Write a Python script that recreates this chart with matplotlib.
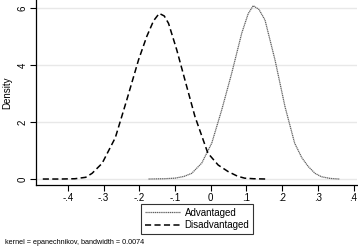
import matplotlib
matplotlib.use("Agg")
import matplotlib.pyplot as plt
import numpy as np

plt.rcParams['font.family'] = ['Liberation Sans', 'DejaVu Sans']

# Disadvantaged density
dis_x = [-0.470, -0.42, -0.38, -0.35, -0.332, -0.304, -0.267, -0.235, -0.202, -0.179,
         -0.160, -0.144, -0.130, -0.118, -0.095, -0.072, -0.044, -0.008, 0.021, 0.049,
         0.075, 0.095, 0.120, 0.156]
dis_y = [0.0, 0.0, 0.01, 0.06, 0.20, 0.55, 1.45, 2.77, 4.18, 5.00,
         5.55, 5.81, 5.72, 5.46, 4.53, 3.47, 2.19, 0.91, 0.49, 0.26,
         0.10, 0.03, 0.01, 0.0]

# Advantaged density
adv_x = [-0.174, -0.13, -0.100, -0.075, -0.053, -0.025, 0.003, 0.031, 0.059, 0.087,
         0.105, 0.119, 0.135, 0.152, 0.180, 0.208, 0.235, 0.255, 0.273, 0.292,
         0.310, 0.335, 0.360]
adv_y = [0.0, 0.01, 0.03, 0.09, 0.20, 0.56, 1.26, 2.43, 3.72, 5.12,
         5.80, 6.08, 5.95, 5.58, 4.18, 2.54, 1.26, 0.75, 0.44, 0.20,
         0.08, 0.02, 0.0]

xticks = [-0.4, -0.3, -0.2, -0.1, 0.0, 0.1, 0.2, 0.3, 0.4]
xticklabels = ['-.4', '-.3', '-.2', '-.1', '0', '.1', '.2', '.3', '.4']
yticks = [0, 2, 4, 6]

fig = plt.figure(figsize=(3.58, 2.48), dpi=100)
ax = fig.add_axes([0.1006, 0.254, 0.897, 0.746])

ax.plot(adv_x, adv_y, color='#606060', lw=0.9, linestyle=(0, (1, 0.5)), label='Advantaged')
ax.plot(dis_x, dis_y, color='black', lw=1.1, linestyle=(0, (4, 2.2)), label='Disadvantaged')

ax.set_xlim(-0.489, 0.41)
ax.set_ylim(-0.21, 6.28)
ax.set_xticks(xticks)
ax.set_xticklabels(xticklabels, fontsize=7)
ax.set_yticks(yticks)
ax.set_yticklabels([str(v) for v in yticks], fontsize=7, rotation=90, va='center')
ax.tick_params(axis='both', direction='out', length=4, width=0.8, pad=2, colors='black')
for sp in ['top', 'right']:
    ax.spines[sp].set_visible(False)
for sp in ['left', 'bottom']:
    ax.spines[sp].set_linewidth(0.9)
ax.grid(axis='y', color='#e8e8e8', lw=1.0)
ax.set_axisbelow(True)
ax.set_ylabel('Density', fontsize=7, labelpad=4)

leg = fig.legend(loc='center', bbox_to_anchor=(197/358, 1 - 219/248), fontsize=7,
                 frameon=True, fancybox=False, edgecolor='black', handlelength=3.6,
                 borderpad=0.4, labelspacing=0.3, handletextpad=0.5)
leg.get_frame().set_linewidth(0.8)

fig.text(5/358, 1 - 243/248, 'kernel = epanechnikov, bandwidth = 0.0074', fontsize=5.2,
         va='center', ha='left')

fig.savefig('out.png', dpi=100)
